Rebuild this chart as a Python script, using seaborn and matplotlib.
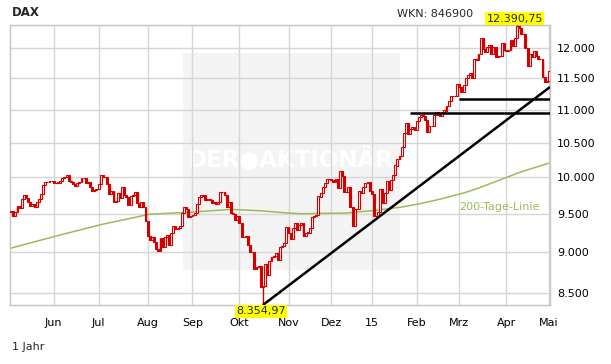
import matplotlib
matplotlib.use("Agg")
import matplotlib.pyplot as plt
from matplotlib.patches import Rectangle
from matplotlib.ticker import FixedLocator, NullLocator
import numpy as np
import pandas as pd
import seaborn as sns

# Daily DAX closes, one list per month (May 2014 - May 2015)
may14 = [9530, 9467, 9521, 9607, 9581, 9703, 9754, 9710, 9656, 9600,
         9630, 9590, 9660, 9700, 9768, 9893, 9940, 9939, 9950, 9943]
jun14 = [9920, 9919, 9927, 9948, 9987, 10008, 10028, 9950, 9938, 9912,
         9883, 9920, 9928, 9987, 9987, 9920, 9938, 9867, 9805, 9816, 9833]
jul14 = [9902, 10029, 10009, 10009, 9906, 9772, 9808, 9659, 9666, 9783,
         9719, 9859, 9753, 9720, 9612, 9734, 9753, 9797, 9644, 9594,
         9653, 9593, 9407]
aug14 = [9210, 9154, 9189, 9130, 9038, 9010, 9180, 9069, 9199, 9225,
         9092, 9245, 9334, 9301, 9315, 9339, 9510, 9588, 9569, 9462, 9470]
sep14 = [9479, 9507, 9626, 9724, 9747, 9758, 9686, 9700, 9691, 9651,
         9659, 9632, 9661, 9798, 9799, 9749, 9595, 9662, 9510, 9490,
         9422, 9474]
oct14 = [9382, 9195, 9196, 9209, 9086, 9005, 9005, 8788, 8812, 8825,
         8571, 8582, 8850, 8717, 8886, 8940, 8947, 8988, 8902, 9068,
         9082, 9114, 9326]
nov14 = [9251, 9167, 9315, 9378, 9291, 9351, 9370, 9210, 9248, 9252,
         9307, 9456, 9473, 9483, 9733, 9785, 9861, 9915, 9974, 9980]
dec14 = [9963, 9934, 9971, 9851, 10087, 10014, 9799, 9799, 9862, 9594,
         9334, 9564, 9563, 9811, 9787, 9865, 9922, 9936, 9806]
jan15 = [9765, 9473, 9469, 9518, 9837, 9648, 9781, 9941, 9817, 9960,
         10032, 10167, 10257, 10299, 10435, 10649, 10798, 10628, 10710,
         10738, 10694]
feb15 = [10828, 10891, 10911, 10905, 10846, 10664, 10752, 10753, 10920,
         10963, 10924, 10895, 10961, 10985, 11051, 11130, 11206, 11211,
         11210, 11402]
mar15 = [11356, 11280, 11390, 11504, 11551, 11582, 11500, 11806, 11799,
         11901, 12167, 11980, 11922, 12018, 12039, 11895, 12014, 11843,
         11865, 11868, 12086, 11966]
apr15 = [11939, 11967, 12123, 12036, 12166, 12375, 12338, 12227, 12231,
         11998, 11689, 11892, 11849, 11939, 11867, 11811, 11811, 11518,
         11432, 11454]
may15 = [11620]

months = [may14, jun14, jul14, aug14, sep14, oct14, nov14, dec14,
          jan15, feb15, mar15, apr15, may15]
month_labels = ["Jun", "Jul", "Aug", "Sep", "Okt", "Nov", "Dez", "15",
                "Feb", "Mrz", "Apr", "Mai"]

# intraday extremes (labelled in the chart)
low_value, low_day = 8354.97, 118
high_value, high_day = 12390.75, 237

# 200-day line, read at a few trading-day positions
sma_day = [0, 21, 42, 65, 84, 103, 117, 129, 136, 157, 171, 183, 192,
           201, 213, 220, 239, 252]
sma_value = [9052, 9206, 9355, 9494, 9521, 9558, 9540, 9511, 9500, 9510,
             9546, 9590, 9638, 9697, 9790, 9860, 10078, 10201]

# drawn support / resistance lines
trend_day = [118, 252.5]
trend_value = [8354.97, 11355]
level_start = [187, 210]
level_value = [10951, 11168]

y_ticks = [8500, 9000, 9500, 10000, 10500, 11000, 11500, 12000]

closes = np.concatenate(months).astype(float)
n = len(closes)
days = np.arange(n)
opens = np.r_[closes[0], closes[:-1]]
month_start = np.cumsum([len(m) for m in months])[:-1]

RED = "#d40000"
OLIVE = "#9bbb59"
GRID = "#d6d6d6"

sns.set_style("white")
plt.rcParams["font.family"] = ["DejaVu Sans"]

fig = plt.figure(figsize=(6.11, 3.64), dpi=100)
ax = fig.add_axes([10 / 611, 59 / 364, 540 / 611, 280 / 364])
ax.set_yscale("log")
ax.set_xlim(-0.5, n - 0.5)
ax.set_ylim(low_value, high_value)
ax.set_axisbelow(True)

# watermark box
fig_tr = fig.transFigure
ax.add_patch(Rectangle((183 / 611, 1 - 270 / 364), 217 / 611, 217 / 364,
                       transform=fig_tr, facecolor="#f4f4f4",
                       edgecolor="none", zorder=0.1, clip_on=False))
ax.text(291 / 611, 1 - 160 / 364, "DER\u25CFAKTION\u00C4R", transform=fig_tr,
        ha="center", va="center", fontsize=16.5, fontweight="bold",
        color="white", zorder=0.2)

# grid
for x in month_start:
    ax.axvline(x, color=GRID, lw=1, zorder=0.5)
for y in y_ticks:
    ax.axhline(y, color=GRID, lw=1, zorder=0.5)

# 200-day line
sma_df = pd.DataFrame({"day": sma_day, "value": sma_value})
sns.lineplot(data=sma_df, x="day", y="value", ax=ax, color=OLIVE, lw=1.1,
             zorder=2)
ax.text(0.831, 0.35, "200-Tage-Linie", transform=ax.transAxes,
        color=OLIVE, fontsize=8, va="center", ha="left", zorder=3)

# candles
up = closes >= opens
lows = np.minimum(opens, closes)
lows[low_day] = low_value
highs = np.maximum(opens, closes)
highs[high_day] = high_value
ax.vlines(days, lows, highs, color=RED, lw=1.0, zorder=3)
bottoms = np.minimum(opens, closes)
heights = np.abs(closes - opens) + 1
ax.bar(days[up], heights[up], bottom=bottoms[up], width=0.9,
       facecolor="white", edgecolor=RED, lw=0.8, zorder=4)
ax.bar(days[~up], heights[~up], bottom=bottoms[~up], width=0.9,
       facecolor=RED, edgecolor=RED, lw=0.8, zorder=4)

# trend lines
ax.plot(trend_day, trend_value, color="black", lw=1.8, zorder=5,
        solid_capstyle="butt")
for s, v in zip(level_start, level_value):
    ax.plot([s, n - 0.5], [v, v], color="black", lw=1.8, zorder=5,
            solid_capstyle="butt")

# extremes labels
box = dict(boxstyle="square,pad=0.1", facecolor="#ffff00", edgecolor="none")
ax.annotate("8.354,97", xy=(low_day, low_value), xytext=(-1.5, -1),
            textcoords="offset points", ha="center", va="top", fontsize=8,
            bbox=box, annotation_clip=False, zorder=6)
ax.annotate("12.390,75", xy=(high_day, high_value), xytext=(-1.5, 1),
            textcoords="offset points", ha="center", va="bottom",
            fontsize=8, bbox=box, annotation_clip=False, zorder=6)

# axes
ax.yaxis.set_major_locator(FixedLocator(y_ticks))
ax.yaxis.set_minor_locator(NullLocator())
ax.set_yticklabels([f"{v:,}".replace(",", ".") for v in y_ticks])
ax.yaxis.tick_right()
ax.set_xticks(month_start)
ax.set_xticklabels(month_labels)
ax.tick_params(axis="both", length=0, labelsize=8, colors="black")
ax.tick_params(axis="y", pad=5)
ax.tick_params(axis="x", pad=9)
ax.set_xlabel("")
ax.set_ylabel("")
for sp in ax.spines.values():
    sp.set_color("#c4c4c4")
    sp.set_linewidth(1)
    sp.set_visible(True)

fig.text(12 / 611, 1 - 12.5 / 364, "DAX", fontsize=8.5, fontweight="bold",
         va="center", ha="left")
fig.text(397 / 611, 1 - 14 / 364, "WKN: 846900", fontsize=8,
         va="center", ha="left")
fig.text(12 / 611, 1 - 347 / 364, "1 Jahr", fontsize=8, va="center",
         ha="left")

fig.savefig("out.png", dpi=100)
